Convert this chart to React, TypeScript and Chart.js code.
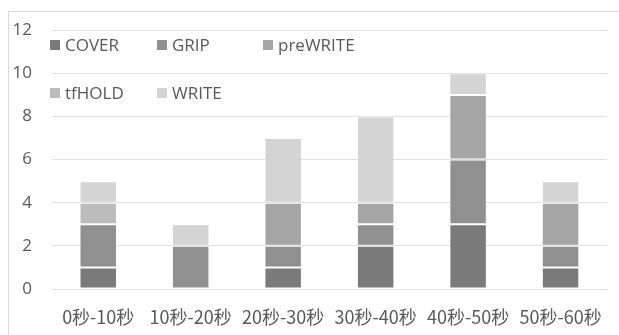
import React, { useEffect, useRef } from "react";
import { Chart, registerables } from "chart.js";

Chart.register(...registerables);

const categories = ["0秒-10秒", "10秒-20秒", "20秒-30秒", "30秒-40秒", "40秒-50秒", "50秒-60秒"];
const seriesNames = ["COVER", "GRIP", "preWRITE", "tfHOLD", "WRITE"];
const cover = [1, 0, 1, 2, 3, 1];
const grip = [2, 2, 1, 1, 3, 1];
const preWrite = [0, 0, 2, 1, 3, 2];
const tfHold = [1, 0, 0, 0, 0, 0];
const write = [1, 1, 3, 4, 1, 1];
const seriesColors = ["#7a7a7a", "#909090", "#a5a5a5", "#bcbcbc", "#d4d4d4"];
const yTicks = [0, 2, 4, 6, 8, 10, 12];

const TEXT = "#595959";
const FONT = "'Open Sans', 'Noto Sans', sans-serif";

// Outer frame plus a two-row legend placed inside the plot area.
const framePlugin = {
  id: "frameAndLegend",
  beforeDraw(chart: any) {
    const ctx = chart.ctx;
    ctx.save();
    ctx.fillStyle = "#ffffff";
    ctx.fillRect(0, 0, chart.width, chart.height);
    ctx.strokeStyle = "#d9d9d9";
    ctx.lineWidth = 1;
    ctx.strokeRect(8.5, 11.5, chart.width + 20, chart.height + 20);
    ctx.restore();
  },
  afterDraw(chart: any) {
    const ctx = chart.ctx;
    const cols = [50, 157, 263];
    const rows = [45, 93];
    ctx.save();
    ctx.font = `17px ${FONT}`;
    ctx.textBaseline = "middle";
    ctx.textAlign = "left";
    chart.data.datasets.forEach((ds: any, i: number) => {
      const x = cols[i % 3];
      const y = rows[Math.floor(i / 3)];
      ctx.fillStyle = ds.backgroundColor;
      ctx.fillRect(x, y - 5, 10, 10);
      ctx.fillStyle = TEXT;
      ctx.fillText(ds.label, x + 15, y + 1);
    });
    ctx.restore();
  },
};

export default function App() {
  const ref = useRef<HTMLCanvasElement | null>(null);

  useEffect(() => {
    if (!ref.current) return;
    const values = [cover, grip, preWrite, tfHold, write];
    const chart = new Chart(ref.current, {
      type: "bar",
      data: {
        labels: categories,
        datasets: seriesNames.map((name, i) => ({
          label: name,
          data: values[i],
          backgroundColor: seriesColors[i],
          borderColor: "rgba(255,255,255,0.18)",
          borderWidth: 1,
          borderSkipped: false,
          categoryPercentage: 1,
          barPercentage: 0.405,
        })),
      },
      options: {
        animation: false,
        responsive: false,
        maintainAspectRatio: false,
        events: [],
        layout: { padding: { top: 27, right: 4, left: 0, bottom: 0 } },
        plugins: { legend: { display: false }, tooltip: { enabled: false } },
        scales: {
          x: {
            stacked: true,
            grid: { display: false, drawTicks: false },
            border: { display: false },
            ticks: {
              color: TEXT,
              font: { family: "'Noto Sans CJK SC', sans-serif", size: 18 },
              padding: 17,
              maxRotation: 0,
              autoSkip: false,
            },
            afterFit: (s: any) => {
              s.height = 46;
            },
          },
          y: {
            stacked: true,
            min: 0,
            max: 12,
            afterBuildTicks: (s: any) => {
              s.ticks = yTicks.map((v) => ({ value: v }));
            },
            grid: { color: "#e0e0e0", lineWidth: 1, drawTicks: false },
            border: { display: false },
            ticks: {
              color: TEXT,
              font: { family: FONT, size: 17 },
              padding: 20,
            },
            afterFit: (s: any) => {
              s.width = 52;
            },
          },
        },
      },
      plugins: [framePlugin],
    });
    return () => chart.destroy();
  }, []);

  return (
    <div style={{ position: "absolute", left: 0, top: 0, width: 619, height: 335 }}>
      <canvas ref={ref} width={619} height={335} style={{ display: "block" }} />
    </div>
  );
}
